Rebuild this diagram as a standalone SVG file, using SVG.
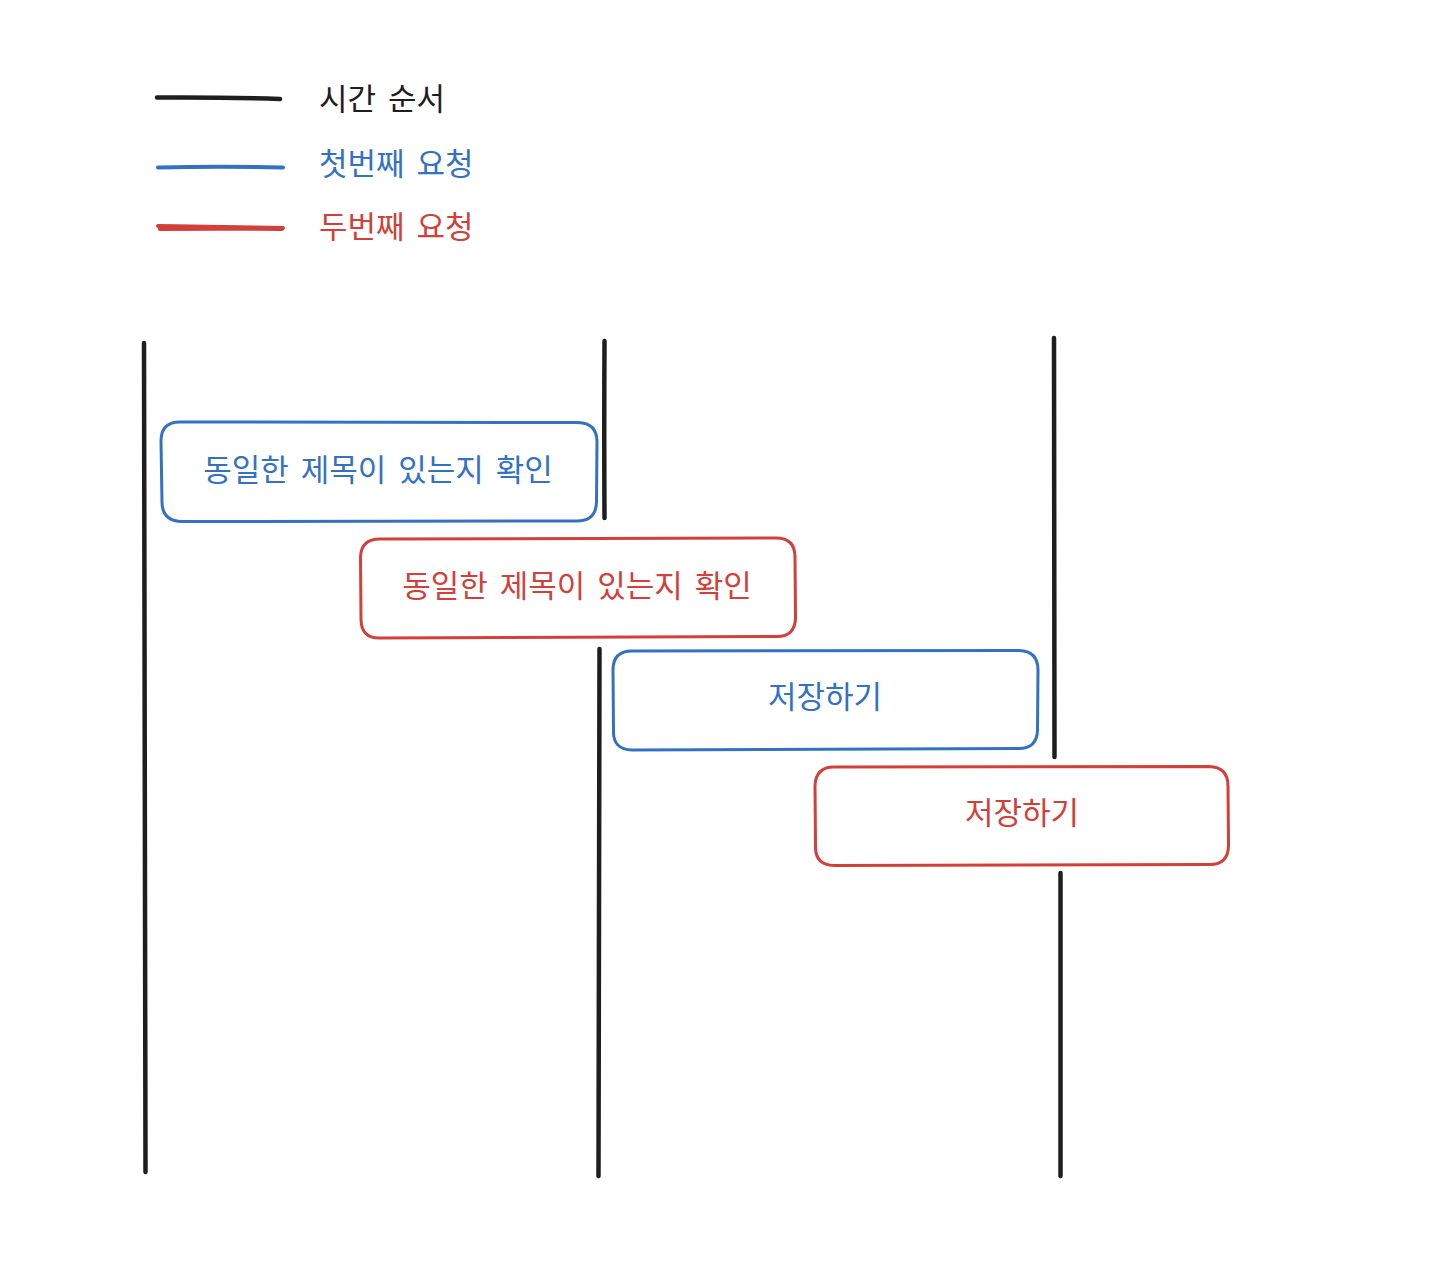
<svg xmlns="http://www.w3.org/2000/svg" width="1450" height="1270" viewBox="0 0 1450 1270">
<style>
text{font-family:"Noto Sans CJK KR","Noto Sans",sans-serif;font-size:31px;word-spacing:5px}
.k{fill:#1e1e1e}.b{fill:#3571c1}.r{fill:#d1403a}
.lk{stroke:#1e1e1e;stroke-width:4.5;fill:none;stroke-linecap:round}
.lb{stroke:#3571c1;stroke-width:4;fill:none;stroke-linecap:round}
.lr{stroke:#d1403a;stroke-width:4;fill:none;stroke-linecap:round}
.bb{stroke:#3571c1;stroke-width:3;fill:none}
.br{stroke:#d1403a;stroke-width:3;fill:none}
.c{text-anchor:middle}
</style>
<rect width="1450" height="1270" fill="#ffffff"/>
<g id="legend">
<path class="lk" d="M157 97.5 Q220 97 280 99"/>
<text class="k" x="319" y="110">시간 순서</text>
<path class="lb" d="M158 167.5 Q220 166 283 167.5"/>
<text class="b" x="319" y="175">첫번째 요청</text>
<path class="lr" d="M158 226 Q220 227 283 228"/>
<path class="lr" d="M160 229 Q220 228.5 282 229" stroke-width="2"/>
<text class="r" x="319" y="238">두번째 요청</text>
</g>
<g id="timelines">
<path class="lk" d="M144 343 Q145.5 760 145.5 1172"/>
<path class="lk" d="M604.5 341 Q604 430 604.5 518"/>
<path class="lk" d="M599.5 649 Q598.5 900 598.5 1176"/>
<path class="lk" d="M1054 338 Q1054.5 550 1054.5 757"/>
<path class="lk" d="M1060.5 873 Q1060.5 1030 1060.5 1176"/>
</g>
<g id="check-1">
<path class="bb" d="M180 422 L578 422.5 Q597 423 597 442 L596.5 502 Q596 521 577 521 L182 521.5 Q162 521 162 502 L161 441 Q161 422 180 422 Z"/>
<text class="b c" x="378" y="481">동일한 제목이 있는지 확인</text>
</g>
<g id="check-2">
<path class="br" d="M380 539 L776 538 Q795 538 795 557 L795.5 618 Q795 637 776 636.5 L379 638 Q361 638 361 619 L360.5 557 Q361 539 380 539 Z"/>
<text class="r c" x="577" y="597">동일한 제목이 있는지 확인</text>
</g>
<g id="save-1">
<path class="bb" d="M632 651 L1019 650.5 Q1038 651 1038 670 L1037.5 730 Q1037 749 1018 748.5 L632 750 Q613 749.5 613.5 731 L613 670 Q613 651 632 651 Z"/>
<text class="b c" x="825" y="708">저장하기</text>
</g>
<g id="save-2">
<path class="br" d="M834 767 L1209 766.5 Q1228 767 1228 786 L1228.5 846 Q1228 865 1209 864.5 L834 865.5 Q815 865 815.5 846 L815 786 Q815.5 767 834 767 Z"/>
<text class="r c" x="1022" y="824">저장하기</text>
</g>
</svg>
